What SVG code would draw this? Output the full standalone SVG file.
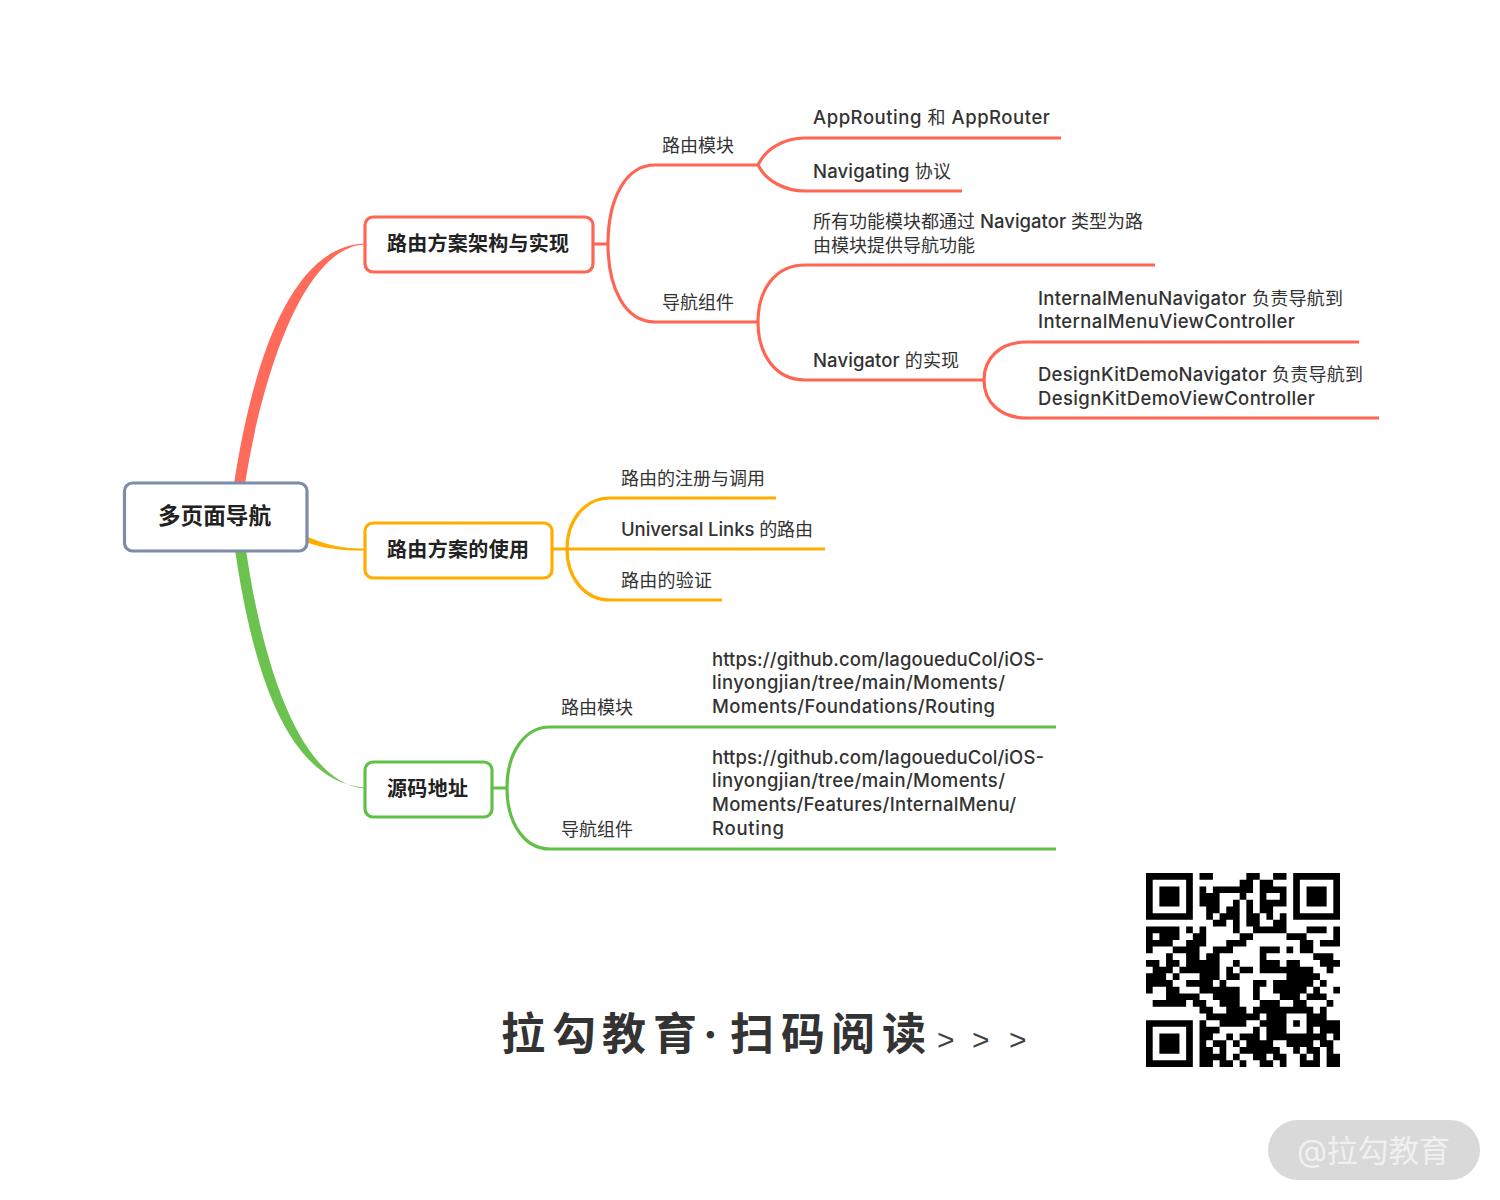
<svg xmlns="http://www.w3.org/2000/svg" width="1500" height="1200" viewBox="0 0 1500 1200">
<style>
text{font-family:"Inter","Noto Sans CJK SC",sans-serif;fill:#333;font-size:18.500px;font-weight:500}
.cn,tspan{font-size:18px;font-weight:400}
.b{font-weight:700;font-size:20px;fill:#222}
.root{font-size:22.600px}
.lines path{fill:none;stroke-width:3.200}
.box{fill:#fff;stroke-width:3.200}
.red{stroke:#ff6553}.org{stroke:#ffae00}.grn{stroke:#62c048}
.foot{font-weight:700;font-size:44px;fill:#333}
</style>
<rect width="1500" height="1200" fill="#fff"/>
<g id="connectors">
<path fill="#ff6b5a" d="M234 484C250 380 285 247 364 243.500V244.500C305 248 263 370 245 484Z"/>
<path fill="#6cc24f" d="M235 550C250 650 280 780 364 787.500V788.500C305 783 265 680 246 550Z"/>
<path fill="#ffae00" d="M306 536C325 545 345 549 365 548.500V550.500C340 551 322 548 306 542Z"/>
<g class="lines">
<path class="red" d="M593 244H608M758 165H655C625 165 608 200 608 244C608 288 625 322 655 322H758M758 165C766 148 785 138 805 138H1061M758 165C766 181 785 191 805 191H962M1155 265H805C775 265 758 290 758 322C758 354 775 380 805 380H984M1359 342H1027C1000 342 984 358 984 380C984 402 1000 418 1027 418H1379"/>
<path class="org" d="M552 549H825M776 498H610C585 498 567 520 567 549C567 578 585 600 610 600H722"/>
<path class="grn" d="M492 788H507M1056 727H550C525 727 507 752 507 788C507 824 525 849 550 849H1056"/>
</g>
</g>
<g id="root"><rect class="box" x="124.500" y="483" width="182.500" height="68" rx="8" stroke="#7d8ca8"/><text class="b root" x="158" y="524" textLength="113">多页面导航</text></g>
<g id="topic1"><rect class="box red" x="365" y="217" width="228" height="55" rx="8"/><text class="b" x="387" y="251" textLength="182">路由方案架构与实现</text></g>
<g id="topic2"><rect class="box org" x="365" y="523" width="187" height="55" rx="8"/><text class="b" x="387" y="557" textLength="142">路由方案的使用</text></g>
<g id="topic3"><rect class="box grn" x="365" y="762" width="127" height="55" rx="8"/><text class="b" x="387" y="796" textLength="81">源码地址</text></g>
<g id="labels-red">
<text class="cn" x="662" y="152" textLength="72">路由模块</text>
<text class="cn" x="662" y="309" textLength="72">导航组件</text>
<text x="813" y="124" textLength="237">AppRouting <tspan>和</tspan> AppRouter</text>
<text x="813" y="178" textLength="138">Navigating <tspan>协议</tspan></text>
<text x="813" y="228" textLength="330"><tspan>所有功能模块都通过</tspan> Navigator <tspan>类型为路</tspan></text>
<text class="cn" x="813" y="252" textLength="162">由模块提供导航功能</text>
<text x="813" y="367" textLength="146">Navigator <tspan>的实现</tspan></text>
<text x="1038" y="305" textLength="305">InternalMenuNavigator <tspan>负责导航到</tspan></text>
<text x="1038" y="328" textLength="257">InternalMenuViewController</text>
<text x="1038" y="381" textLength="325">DesignKitDemoNavigator <tspan>负责导航到</tspan></text>
<text x="1038" y="405" textLength="277">DesignKitDemoViewController</text>
</g>
<g id="labels-orange">
<text class="cn" x="621" y="485" textLength="144">路由的注册与调用</text>
<text x="621" y="536" textLength="192">Universal Links <tspan>的路由</tspan></text>
<text class="cn" x="621" y="587" textLength="91">路由的验证</text>
</g>
<g id="labels-green">
<text class="cn" x="561" y="714" textLength="72">路由模块</text>
<text class="cn" x="561" y="836" textLength="72">导航组件</text>
<text x="712" y="666" textLength="332">https://github.com/lagoueduCol/iOS-</text>
<text x="712" y="689" textLength="293">linyongjian/tree/main/Moments/</text>
<text x="712" y="713" textLength="283">Moments/Foundations/Routing</text>
<text x="712" y="764" textLength="332">https://github.com/lagoueduCol/iOS-</text>
<text x="712" y="787" textLength="293">linyongjian/tree/main/Moments/</text>
<text x="712" y="811" textLength="304">Moments/Features/InternalMenu/</text>
<text x="712" y="835" textLength="72">Routing</text>
</g>
<g id="footer">
<text class="foot" x="501 552 602 653 703 730 781 831 882" y="1050">拉勾教育·扫码阅读</text>
<text x="937 972 1009" y="1050" style="font-size:30px;font-family:'Liberation Sans',sans-serif;fill:#444">&gt;&gt;&gt;</text>
</g>
<g id="qr" transform="translate(1146 873) scale(6.69)">
<path fill="#000" fill-rule="evenodd" d="M0 0h7v7h-7zM1 1v5h5v-5zM2 2h3v3h-3zM22 0h7v7h-7zM23 1v5h5v-5zM24 2h3v3h-3zM0 22h7v7h-7zM1 23v5h5v-5zM2 24h3v3h-3z"/>
<path fill="none" stroke="#000" stroke-width="1" d="M8 .5h2M15 .5h2M19 .5h2M14 1.500h2M17 1.500h2M8 2.500h1M10 2.500h6M17 2.500h4M8 3.500h3M14 3.500h1M17 3.500h1M20 3.500h1M8 4.500h3M13 4.500h1M15 4.500h1M17 4.500h4M9 5.500h2M12 5.500h2M15 5.500h1M17 5.500h2M9 6.500h1M11 6.500h2M13 6.500h1M15 6.500h2M18 6.500h1M20 6.500h1M10 7.500h2M13 7.500h1M15 7.500h2M19 7.500h2M0 8.500h5M6 8.500h1M8 8.500h1M13 8.500h1M16 8.500h5M24 8.500h3M28 8.500h1M0 9.500h1M2 9.500h3M7 9.500h2M14 9.500h2M21 9.500h3M28 9.500h1M0 10.500h4M6 10.500h3M12 10.500h3M23 10.500h2M26 10.500h3M0 11.500h1M4 11.500h4M10 11.500h3M17 11.500h3M21 11.500h1M23 11.500h2M3 12.500h1M6 12.500h2M9 12.500h2M17 12.500h1M25 12.500h3M0 13.500h2M3 13.500h2M6 13.500h5M13 13.500h1M17 13.500h3M21 13.500h2M26 13.500h3M1 14.500h3M5 14.500h6M12 14.500h1M14 14.500h2M17 14.500h8M27 14.500h1M0 15.500h3M4 15.500h1M8 15.500h3M12 15.500h2M21 15.500h5M0 16.500h4M6 16.500h4M11 16.500h1M16 16.500h2M19 16.500h6M26 16.500h1M0 17.500h1M3 17.500h2M8 17.500h6M16 17.500h1M19 17.500h5M25 17.500h1M28 17.500h1M3 18.500h5M10 18.500h4M16 18.500h1M20 18.500h3M24 18.500h3M1 19.500h5M7 19.500h2M11 19.500h3M17 19.500h3M22 19.500h2M27 19.500h1M8 20.500h2M12 20.500h3M16 20.500h9M26 20.500h1M9 21.500h7M16 21.500h1M18 21.500h3M24 21.500h3M8 22.500h1M11 22.500h4M17 22.500h4M22 22.500h1M24 22.500h5M8 23.500h3M16 23.500h1M18 23.500h3M24 23.500h1M26 23.500h3M8 24.500h2M12 24.500h1M14 24.500h3M18 24.500h9M28 24.500h1M8 25.500h1M10 25.500h2M13 25.500h1M15 25.500h4M21 25.500h4M26 25.500h2M8 26.500h2M11 26.500h1M14 26.500h6M22 26.500h1M24 26.500h2M27 26.500h1M8 27.500h4M13 27.500h1M16 27.500h2M19 27.500h2M23 27.500h1M25 27.500h1M27 27.500h2M8 28.500h2M11 28.500h2M14 28.500h1M17 28.500h2M20 28.500h1M23 28.500h3M27 28.500h2"/>
</g>
<g id="watermark">
<rect x="1268" y="1120" width="212" height="60" rx="30" fill="#d9d9d9"/>
<text x="1297" y="1162" textLength="153" style="font-size:31px;fill:#f0f0f0;font-weight:400">@拉勾教育</text>
</g>
</svg>
